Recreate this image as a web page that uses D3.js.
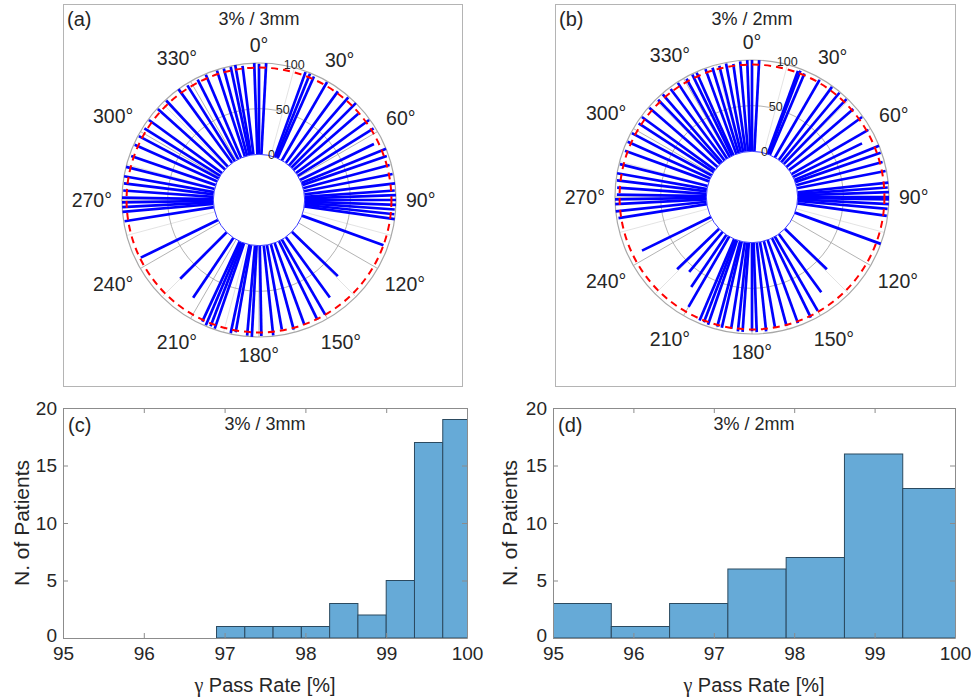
<!DOCTYPE html>
<html><head><meta charset="utf-8">
<script src="https://cdn.jsdelivr.net/npm/d3@7"></script>
<style>body{margin:0;background:#fff}svg{display:block}text{font-family:"Liberation Sans",Arial,sans-serif;fill:#262626}</style>
</head><body><svg id="c" width="971" height="697"></svg>
<script>
// ---- Polar data: gantry angle (deg) and gamma pass rate (%) ----
const anglesA = [0,3,20,22,24,30,36,41,45,49,54,58,64,68,71,75,79,83,86,88,90,92,94,96,98,110,134,144,150,154,160,165,170,174,179,183,185,190,192,199,201,203,205,214,225,244,261,265,267,269,271,274,277,280,284,289,294,298,302,306,312,317,324,328,333,337,342,345,348,350,353,358];
const valuesA = [99,100,99,99,98,99,97,99,100,94,99,98,90,100,98,98,99,100,99,100,100,100,99,99,100,95,70,82,95,96,95,97,94,99,99,100,99,97,99,99,98,99,97,79,72,94,99,100,100,100,100,99,99,100,100,98,99,99,98,99,99,99,100,98,98,99,99,99,99,100,98,100];
const anglesB = [0,3,20,21,23,30,36,40,44,49,54,60,64,68,71,75,79,84,86,88,90,91,93,95,98,110,134,144,150,154,160,165,170,174,178,180,184,186,189,193,195,199,201,203,210,214,220,226,244,261,264,267,269,271,274,277,280,284,290,294,298,303,306,311,316,319,323,327,331,334,336,340,343,346,349,352,355,358];
const valuesB = [100,100,97,98,97,98,99,99,99,97,99,97,84,100,99,98,99,100,99,100,100,100,100,99,99,100,64,79,94,97,97,96,95,98,98,97,98,98,96,97,97,98,97,97,89,69,57,64,84,98,100,100,100,98,98,99,100,99,98,99,99,98,99,99,98,99,98,99,98,99,99,99,98,98,99,97,99,100];
const thetaTicks = [0,30,60,90,120,150,180,210,240,270,300,330];
const rTicks = [0,50,100];
const threshold = 95;

// ---- Histogram data ----
const edgesC = [96.9,97.25,97.6,97.95,98.3,98.65,99.0,99.35,99.7,100.05];
const countsC = [1,1,1,1,3,2,5,17,19];
const edgesD = [95.0,95.725,96.45,97.175,97.9,98.625,99.35,100.075];
const countsD = [3,1,3,6,7,16,13];
const xTicks = [95,96,97,98,99,100];
const yTicks = [0,5,10,15,20];

const svg = d3.select("#c");
svg.append("rect").attr("width",971).attr("height",697).attr("fill","#fff");

function polar(frame, cx, cy, angles, values, tag, title){
  svg.append("rect").attr("x",frame[0]+0.5).attr("y",frame[1]+0.5).attr("width",frame[2]).attr("height",frame[3])
    .attr("fill","none").attr("stroke","#b4b4b4");
  const g = svg.append("g").attr("transform",`translate(${cx},${cy})`);
  const r = d3.scaleLinear().domain([-50,100]).range([0,137]);
  const rad = d => d*Math.PI/180;
  d3.range(15,360,30).forEach(t=>{
    g.append("line").attr("x1",r(0)*Math.sin(rad(t))).attr("y1",-r(0)*Math.cos(rad(t)))
      .attr("x2",r(100)*Math.sin(rad(t))).attr("y2",-r(100)*Math.cos(rad(t)))
      .attr("stroke","#dcdcdc").attr("stroke-width",0.8);
  });
  thetaTicks.forEach(t=>{
    g.append("line").attr("x1",r(0)*Math.sin(rad(t))).attr("y1",-r(0)*Math.cos(rad(t)))
      .attr("x2",r(100)*Math.sin(rad(t))).attr("y2",-r(100)*Math.cos(rad(t)))
      .attr("stroke","#aaaaaa").attr("stroke-width",0.9);
  });
  g.append("circle").attr("r",r(50)).attr("fill","none").attr("stroke","#aaaaaa").attr("stroke-width",0.9);
  g.append("circle").attr("r",r(100)).attr("fill","none").attr("stroke","#a8a8a8").attr("stroke-width",1.2);
  g.selectAll("line.sp").data(angles.map((a,i)=>({a,v:values[i]}))).enter().append("line")
    .attr("x1",d=>r(0)*Math.sin(rad(d.a))).attr("y1",d=>-r(0)*Math.cos(rad(d.a)))
    .attr("x2",d=>r(d.v)*Math.sin(rad(d.a))).attr("y2",d=>-r(d.v)*Math.cos(rad(d.a)))
    .attr("stroke","#0000ff").attr("stroke-width",2.7);
  g.append("circle").attr("r",r(0)).attr("fill","#fff").attr("stroke","#3a3aff").attr("stroke-width",1);
  g.append("circle").attr("r",r(threshold)).attr("fill","none").attr("stroke","#ff0000")
    .attr("stroke-width",2).attr("stroke-dasharray","7,5");
  rTicks.forEach(v=>{
    const rr=r(v), t=rad(10);
    g.append("text").attr("x",rr*Math.sin(t)+1).attr("y",-rr*Math.cos(t)).attr("font-size",12.5)
      .attr("text-anchor","start").attr("dominant-baseline","central").text(v);
  });
  thetaTicks.forEach(t=>{
    const tx = g.append("text").attr("font-size",19.5).attr("text-anchor","middle").attr("dominant-baseline","central").text(t+"°");
    const w = tx.node().getComputedTextLength();
    const rr = r(100)+10+(w/2)*Math.abs(Math.sin(rad(t)))+8*Math.abs(Math.cos(rad(t)));
    tx.attr("x",rr*Math.sin(rad(t))).attr("y",-rr*Math.cos(rad(t)));
  });
  svg.append("text").attr("x",frame[0]+4).attr("y",frame[1]+15).attr("font-size",20).attr("dominant-baseline","central").text(tag);
  svg.append("text").attr("x",cx).attr("y",frame[1]+15).attr("font-size",18).attr("text-anchor","middle").attr("dominant-baseline","central").text(title);
}

function hist(x0,x1,edges,counts,tag,title,ylabX){
  const x = d3.scaleLinear().domain([95,100]).range([x0,x1]);
  const y = d3.scaleLinear().domain([0,20]).range([638,408]);
  const id = "clip"+tag.replace(/\W/g,"");
  svg.append("clipPath").attr("id",id).append("rect").attr("x",x0).attr("y",408).attr("width",x1-x0).attr("height",230);
  const bars = counts.map((c,i)=>({a:edges[i],b:edges[i+1],c}));
  svg.append("g").attr("clip-path",`url(#${id})`).selectAll("rect").data(bars).enter().append("rect")
    .attr("x",d=>x(d.a)).attr("y",d=>y(d.c)).attr("width",d=>x(d.b)-x(d.a)).attr("height",d=>y(0)-y(d.c))
    .attr("fill","#66aad7").attr("stroke","#2b4a60").attr("stroke-width",1);
  const ax = (sel)=>sel.selectAll("path,line").attr("stroke","#8c8c8c");
  svg.append("g").attr("transform","translate(0,638)")
    .call(d3.axisBottom(x).tickValues(xTicks).tickSizeInner(-5).tickSizeOuter(0).tickPadding(9).tickFormat(d3.format("d")))
    .call(ax).call(s=>s.selectAll("text").attr("font-size",19).attr("fill","#262626").style("font-family","Liberation Sans"));
  svg.append("g").attr("transform","translate(0,408)")
    .call(d3.axisTop(x).tickValues(xTicks).tickSizeInner(-5).tickSizeOuter(0).tickFormat(""))
    .call(ax);
  svg.append("g").attr("transform",`translate(${x0},0)`)
    .call(d3.axisLeft(y).tickValues(yTicks).tickSizeInner(-5).tickSizeOuter(0).tickPadding(6))
    .call(ax).call(s=>s.selectAll("text").attr("font-size",19).attr("fill","#262626").style("font-family","Liberation Sans"))
    .call(s=>s.selectAll(".tick").filter(d=>d===0).select("text").attr("dy","0.2em"));
  svg.append("g").attr("transform",`translate(${x1},0)`)
    .call(d3.axisRight(y).tickValues(yTicks).tickSizeInner(-5).tickSizeOuter(0).tickFormat(""))
    .call(ax);
  const xl = svg.append("text").attr("x",(x0+x1)/2).attr("y",685).attr("font-size",20).attr("text-anchor","middle").attr("dominant-baseline","central");
  xl.append("tspan").style("font-family","Liberation Serif").text("γ");
  xl.append("tspan").text(" Pass Rate [%]");
  svg.append("text").attr("transform",`translate(${ylabX},523) rotate(-90)`).attr("font-size",21).attr("text-anchor","middle").attr("dominant-baseline","central").text("N. of Patients");
  svg.append("text").attr("x",x0+5).attr("y",425).attr("font-size",20).attr("dominant-baseline","central").text(tag);
  svg.append("text").attr("x",(x0+x1)/2).attr("y",424).attr("font-size",18).attr("text-anchor","middle").attr("dominant-baseline","central").text(title);
}

polar([63,4,399,382],259,200,anglesA,valuesA,"(a)","3% / 3mm");
polar([555,4,400,382],752,197,anglesB,valuesB,"(b)","3% / 2mm");
hist(63,467,edgesC,countsC,"(c)","3% / 3mm",21);
hist(553,955,edgesD,countsD,"(d)","3% / 2mm",509);
</script></body></html>
